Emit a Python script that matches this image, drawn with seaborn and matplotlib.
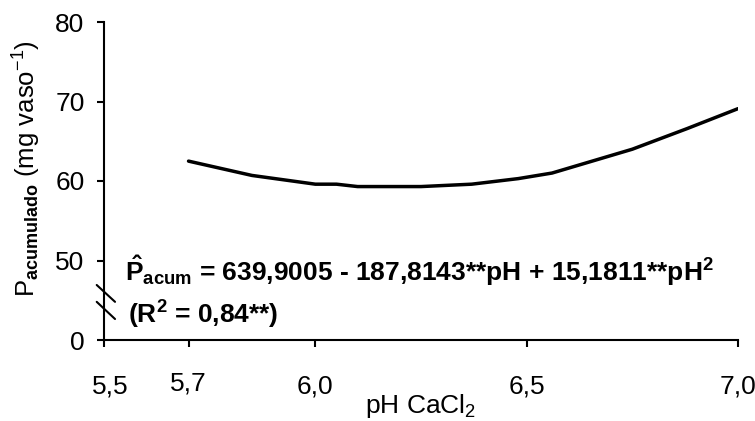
import matplotlib
matplotlib.use("Agg")
import matplotlib.pyplot as plt
import matplotlib.transforms as mtransforms
import seaborn as sns
import pandas as pd

# data
ph = [5.70, 5.85, 6.00, 6.05, 6.10, 6.25, 6.37, 6.48, 6.56, 6.75, 6.88, 7.00]
p_acum = [62.5, 60.7, 59.6, 59.6, 59.3, 59.3, 59.6, 60.3, 61.0, 64.0, 66.6, 69.1]
x_ticks = [5.5, 5.7, 6.0, 6.5, 7.0]
x_tick_labels = ["5,5", "5,7", "6,0", "6,5", "7,0"]
y_ticks = [40, 50, 60, 70, 80]
y_tick_labels = ["0", "50", "60", "70", "80"]

sns.set_style("ticks")
plt.rcParams['font.family'] = ['Liberation Sans', 'DejaVu Sans']
plt.rcParams['mathtext.fontset'] = 'custom'
plt.rcParams['mathtext.rm'] = 'Liberation Sans'
plt.rcParams['mathtext.it'] = 'Liberation Sans:italic'
plt.rcParams['mathtext.bf'] = 'Liberation Sans:bold'
for k in ['text.color', 'axes.labelcolor', 'xtick.color', 'ytick.color',
          'xtick.labelcolor', 'ytick.labelcolor', 'axes.edgecolor']:
    plt.rcParams[k] = 'black'

df = pd.DataFrame({"pH": ph, "P": p_acum})

fig = plt.figure(figsize=(7.55, 4.21), dpi=100)
ax = fig.add_axes([104/755, 1-340/421, 634/755, 318/421])
sns.lineplot(data=df, x="pH", y="P", ax=ax, color="black", linewidth=2.5, sort=True)

ax.set_xlim(5.5, 7.0)
ax.set_ylim(40, 80)
ax.set_xticks(x_ticks)
ax.set_xticklabels(x_tick_labels, fontsize=19)
ax.set_yticks(y_ticks)
ax.set_yticklabels(y_tick_labels, fontsize=19)
ax.tick_params(axis='x', direction='out', length=5, width=1.5, pad=20, colors='black')
ax.tick_params(axis='y', direction='out', length=5, width=1.5, pad=9, colors='black')
for s in ['top', 'right']:
    ax.spines[s].set_visible(False)
for s in ['left', 'bottom']:
    ax.spines[s].set_linewidth(1.5)
    ax.spines[s].set_color('black')

# small per-label offsets as in the reference
lbls = ax.get_xticklabels()
lbls[0].set_transform(lbls[0].get_transform() + mtransforms.ScaledTranslation(6/100, 0, fig.dpi_scale_trans))
lbls[1].set_transform(lbls[1].get_transform() + mtransforms.ScaledTranslation(0, 3/100, fig.dpi_scale_trans))

ax.set_xlabel("pH CaCl$_{2}$", fontsize=19, color='black')
ax.xaxis.set_label_coords(0.5, -0.165)
ax.set_ylabel(r"P$_{\mathbf{acumulado}}$ (mg vaso$^{-1}$)", fontsize=18.5, color='black')
ax.yaxis.set_label_coords(-0.097, 0.54)

# axis break marks
for y0, y1 in [(0.173, 0.120), (0.120, 0.066)]:
    ax.plot([-0.0115, 0.0174], [y0, y1], transform=ax.transAxes, color='black',
            linewidth=1.5, clip_on=False)

ax.text(0.033, 0.186, r"$\mathbf{\hat{P}_{acum}}$ = 639,9005 - 187,8143**pH + 15,1811**pH$^{\mathbf{2}}$",
        transform=ax.transAxes, fontsize=19, fontweight='bold', ha='left', va='baseline', color='black')
ax.text(0.038, 0.053, r"(R$^{\mathbf{2}}$ = 0,84**)",
        transform=ax.transAxes, fontsize=19, fontweight='bold', ha='left', va='baseline', color='black')

fig.savefig("out.png", dpi=100)
